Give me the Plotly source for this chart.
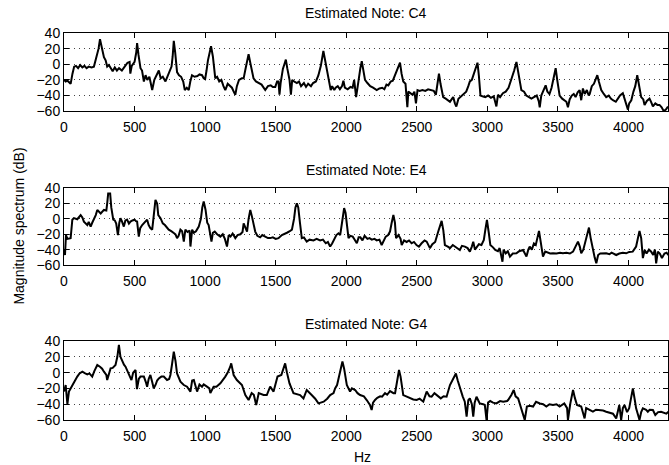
import plotly.graph_objects as go
from plotly.subplots import make_subplots

# ---------------- data (Hz, dB) ----------------
f_c4 = [0,12,25,47,60,72,85,100,115,130,145,160,175,195,212,230,245,255,265,283,295,306,318,330,345,360,375,390,410,430,450,465,470,480,500,512,518,528,542,553,566,578,590,605,618,625,640,655,672,685,700,719,735,750,762,770,778,788,801,815,830,845,856,870,884,895,907,925,945,960,978,990,1000,1010,1020,1042,1055,1072,1085,1100,1115,1130,1143,1160,1175,1190,1205,1214,1225,1240,1260,1273,1285,1300,1308,1320,1343,1360,1380,1400,1426,1445,1465,1480,1497,1510,1520,1527,1535,1551,1565,1572,1582,1598,1608,1617,1630,1650,1665,1680,1700,1715,1730,1750,1765,1785,1803,1820,1838,1850,1865,1874,1890,1900,1915,1925,1940,1955,1970,1980,1990,2010,2030,2045,2056,2070,2085,2100,2110,2120,2133,2150,2170,2190,2216,2235,2255,2270,2285,2298,2315,2330,2345,2357,2370,2381,2392,2404,2420,2433,2440,2455,2470,2483,2494,2505,2520,2540,2560,2580,2600,2620,2635,2645,2657,2668,2687,2705,2720,2735,2750,2758,2770,2780,2795,2817,2835,2850,2865,2876,2890,2905,2920,2930,2940,2951,2965,2985,3005,3025,3045,3064,3075,3090,3110,3130,3150,3170,3190,3206,3220,3241,3260,3276,3295,3312,3330,3350,3365,3371,3382,3398,3413,3425,3440,3455,3470,3484,3495,3512,3530,3545,3560,3571,3583,3598,3612,3625,3640,3654,3665,3677,3690,3705,3718,3725,3740,3755,3768,3779,3790,3807,3825,3842,3860,3875,3890,3910,3925,3940,3960,3975,3996,4005,4020,4035,4048,4062,4075,4090,4105,4114,4130,4149,4160,4173,4190,4205,4220,4235,4250,4265,4280]
db_c4 = [-20,-22,-21,-25,-12,-3,-2,-5,-1,-4,-2,-5,-3,-4,-3,8,20,32,25,9,5,-3,-1,-5,-9,-4,-8,-5,-8,-3,2,3,-12,-2,3,15,27,12,-5,-8,-22,-14,-20,-16,-26,-33,-20,-15,-8,-18,-16,-22,-14,-8,-3,10,30,15,-10,-14,-16,-22,-33,-30,-33,-22,-14,-16,-15,-13,-14,-18,-19,-8,5,23,10,-18,-16,-22,-20,-28,-33,-25,-28,-30,-36,-39,-28,-20,-18,-18,-7,5,13,2,-18,-22,-24,-26,-33,-28,-27,-29,-29,-22,-22,-39,-24,-6,2,6,-5,-20,-39,-20,-22,-24,-22,-28,-24,-29,-25,-28,-24,-22,-14,-2,17,5,-12,-20,-33,-28,-33,-30,-28,-32,-28,-21,-30,-32,-29,-30,-20,-42,-22,-5,4,-8,-20,-24,-28,-30,-33,-31,-30,-32,-26,-27,-22,-21,-14,-10,-3,2,-12,-22,-25,-55,-35,-37,-39,-35,-50,-33,-34,-33,-34,-32,-33,-34,-39,-25,-12,-25,-42,-44,-46,-48,-44,-42,-50,-54,-44,-40,-37,-35,-28,-22,-20,-12,-5,2,-15,-40,-41,-42,-40,-43,-41,-54,-39,-42,-37,-35,-30,-20,-8,3,-10,-33,-35,-40,-42,-44,-42,-40,-48,-55,-40,-32,-27,-35,-38,-30,-15,-5,-20,-40,-44,-46,-48,-55,-45,-40,-38,-42,-36,-33,-46,-31,-38,-33,-40,-38,-28,-25,-18,-14,-22,-33,-38,-42,-40,-44,-46,-48,-44,-40,-37,-45,-58,-50,-46,-35,-28,-14,-25,-42,-45,-52,-47,-44,-48,-54,-50,-52,-52,-55,-60,-58,-54]

f_e4 = [0,7,14,24,47,59,70,94,118,130,141,155,165,175,189,200,212,225,236,250,260,283,300,306,313,327,335,349,360,370,382,392,400,410,424,435,447,460,471,485,500,510,518,530,540,554,570,589,600,612,625,635,641,648,660,668,684,700,715,742,760,778,790,801,812,825,837,849,860,875,890,896,908,920,935,955,970,980,990,1003,1015,1025,1035,1045,1055,1068,1085,1108,1125,1140,1155,1167,1180,1195,1214,1230,1250,1265,1273,1285,1297,1308,1320,1332,1345,1355,1370,1390,1405,1425,1445,1461,1480,1500,1520,1544,1560,1580,1600,1615,1630,1640,1650,1660,1672,1685,1700,1720,1740,1768,1790,1815,1835,1855,1870,1886,1900,1915,1930,1945,1957,1970,1985,1995,2005,2016,2030,2046,2060,2075,2088,2100,2115,2130,2150,2165,2181,2200,2216,2235,2251,2265,2280,2297,2310,2322,2334,2345,2353,2370,2385,2393,2410,2428,2445,2463,2480,2498,2515,2534,2555,2570,2593,2610,2630,2652,2665,2676,2688,2699,2720,2735,2755,2770,2790,2805,2820,2841,2860,2876,2890,2900,2912,2925,2940,2958,2975,2985,2997,3010,3021,3040,3056,3075,3087,3107,3115,3130,3145,3160,3180,3206,3225,3253,3265,3277,3290,3300,3315,3330,3343,3355,3366,3378,3394,3410,3425,3445,3465,3490,3515,3535,3560,3585,3607,3625,3642,3655,3665,3680,3695,3710,3720,3732,3748,3760,3772,3785,3800,3820,3842,3865,3880,3913,3935,3960,3984,4005,4030,4054,4066,4078,4090,4102,4115,4128,4145,4161,4175,4187,4196,4208,4222,4237,4255,4270,4283]
db_e4 = [-40,-47,-21,-26,-25,-1,1,-0.4,5,2,-3.5,-6,-8,-4,-10,-5,-1,5,11.7,8,7,11.7,11,20,33,33,15,-1,-2,-6,-21,-5,1,-3,-10,-2,-1,-6,-3.5,-2,-1,-3,-3.5,-23,-12,-8,-5,-1,-8,-12,-14,0,15,24.8,20,5,1,-5.7,-8,-14,-16,-18.7,-20,-25,-22,-14,-16,-29.6,-14,-17,-15,-36,-14,-18,-16,-10,0,15,22.6,12,-5,-8,-18,-29.6,-18,-16.5,-20,-23,-20,-26,-36,-21,-23,-19,-25,-21,-20,-17,-5.7,-12,-16.5,0,11.7,3,-10,-16.5,-22,-24,-21,-23,-25,-25,-24,-26,-25,-21,-20,-18,-16,-14,0,15,20.4,15,-5,-25,-24,-29.6,-27,-28,-26,-28,-27,-31.7,-30,-36,-32,-27.4,-21,-18.7,-21,-5,14,8,-10,-25,-22,-23,-27,-31.7,-24,-24,-28,-22,-26,-25,-27,-26,-28,-27,-34,-28,-23,-21,-16.5,-5,5.2,-5,-25,-21,-26,-34,-28,-30,-28,-31.7,-30,-34,-36,-31.7,-28,-29.6,-38,-33,-30,-16.5,-8,-2.6,-15,-34,-36,-38,-34,-36,-38,-40.4,-35,-36,-38,-42.6,-36,-29.6,-40,-36,-33,-34,-27.4,-15,-1.3,-18,-34,-37,-40.4,-42,-38,-55.7,-40,-44.8,-42,-49,-45,-44.8,-42,-40.4,-44,-49,-40,-36,-40,-32,-34,-25,-15.6,-30,-49,-42.6,-44,-45,-44.8,-45,-44,-44.8,-44,-45,-42.6,-36,-29.6,-36,-44.8,-40,-30,-18,-11.3,-25,-42.6,-50,-57.8,-47,-45,-44.8,-44.8,-46,-44,-47,-45,-44,-44.8,-43,-42.6,-36,-25,-15.6,-25,-51,-40.4,-45,-40,-42.6,-47,-40,-57.8,-42.6,-45,-51,-45,-44,-47]

f_g4 = [0,12,24,35,47,59,71,94,110,130,150,165,180,200,215,236,255,270,283,300,306,318,330,345,365,378,389,400,412,425,436,450,460,478,490,507,517,530,542,566,580,589,600,612,625,636,650,660,672,690,707,730,745,754,765,778,790,801,825,849,872,896,908,920,943,960,978,990,1013,1030,1037,1060,1080,1108,1143,1160,1178,1185,1202,1225,1261,1285,1308,1330,1345,1362,1380,1414,1437,1461,1485,1513,1540,1555,1567,1580,1598,1626,1650,1673,1697,1720,1755,1780,1803,1840,1865,1886,1910,1921,1935,1955,1973,1985,2004,2027,2040,2063,2080,2098,2125,2145,2168,2180,2190,2204,2220,2240,2254,2275,2290,2310,2335,2346,2360,2374,2385,2404,2425,2451,2475,2499,2520,2546,2570,2590,2605,2625,2640,2670,2690,2711,2735,2755,2777,2790,2805,2825,2840,2853,2865,2876,2890,2900,2910,2923,2935,2946,2970,2982,2994,3005,3020,3040,3064,3090,3112,3140,3147,3170,3187,3200,3218,3241,3265,3280,3300,3324,3345,3372,3395,3418,3440,3465,3490,3512,3545,3565,3571,3588,3607,3620,3635,3665,3689,3700,3725,3748,3770,3795,3820,3842,3870,3890,3913,3935,3948,3960,3972,3990,4005,4020,4031,4045,4054,4070,4078,4090,4102,4125,4137,4150,4173,4190,4210,4231,4255,4268,4283]
db_g4 = [-24,-15.7,-40,-24,-20,-15.7,-11.5,-5,-1,1.2,-1,-2.2,-1,-5,2,9.6,7.5,5,1.2,-3,-9.4,0,5.4,6,9.6,20,35,20,14,10,7.5,2,-1,-9.4,0,3.3,-20.8,-8,-5,-5,-12,-17.8,-8,-3,-12,-20,-15,-10,-7.3,-5,-5,-9.4,-8,-3,10,26.5,15,-1,-11.5,-15.7,-17.8,-24,-10,-9.4,-24,-15,-17.8,-15,-17.8,-20,-26,-17.8,-18,-13.6,-5,0,7.5,11.7,-3,-9.4,-15.7,-28.4,-34.7,-26,-28,-41,-26,-28.4,-28.4,-17.8,-24,-5,-3,5,11.7,0,-13.6,-26,-27,-28.4,-32.6,-22,-28.4,-33,-39,-36.8,-33,-28.4,-26,-20,-15.7,0,14,5,-15.7,-24,-20,-22,-26,-28.4,-30,-34.7,-41,-47.4,-38,-34.7,-32,-30,-30.5,-26,-28,-23.3,-26,-26,-10,3.3,-5,-28.4,-30,-32.6,-34,-34.7,-33,-36.8,-24,-30,-30.5,-26,-28.4,-32.6,-30,-30.5,-15.7,-9,-1,-10,-20,-30,-36.8,-55.8,-35,-32.6,-40,-55.8,-38,-30.5,-35,-39,-40,-41,-60,-38,-36,-38,-39,-36,-37,-36,-34.7,-28.4,-22,-30,-32.6,-45.2,-60,-43,-42,-43,-37,-39,-40,-43,-40,-41,-40,-43,-39,-45,-60,-39,-22,-32,-41,-43,-58,-45,-47.4,-49.5,-47,-47.4,-48,-49.5,-51,-52,-58,-41,-60,-45,-41,-50,-45,-30,-20,-35,-45.2,-55,-60,-50,-45.2,-47,-49.5,-47,-47.4,-53.7,-50,-49.5,-51,-52,-49.5]

titles = ["Estimated Note: C4", "Estimated Note: E4", "Estimated Note: G4"]
x_ticks = [0, 500, 1000, 1500, 2000, 2500, 3000, 3500, 4000]
y_ticks = [-60, -40, -20, 0, 20, 40]
x_label = "Hz"
y_label = "Magnitude spectrum (dB)"

series = [(f_c4, db_c4), (f_e4, db_e4), (f_g4, db_g4)]

FONT = "Liberation Sans, Arial, Helvetica, sans-serif"

fig = make_subplots(rows=3, cols=1)
for i, (f, d) in enumerate(series):
    fig.add_trace(go.Scatter(x=f, y=d, mode="lines",
                             line=dict(color="black", width=2),
                             showlegend=False, hoverinfo="skip"),
                  row=i + 1, col=1)

# pixel geometry: plot area spans y 33..420, x 64..668
domains = [[0.798, 1.0], [0.4005, 0.599], [0.0, 0.204]]
title_y = [1.052, 0.646, 0.248]

for i in range(3):
    xa = "xaxis" if i == 0 else f"xaxis{i+1}"
    ya = "yaxis" if i == 0 else f"yaxis{i+1}"
    fig.layout[xa].update(range=[0, 4280], tickvals=x_ticks, ticks="inside",
                          ticklen=5, tickcolor="black", showline=True,
                          linecolor="black", linewidth=1, mirror="ticks",
                          showgrid=False, zeroline=False, ticklabelstandoff=3,
                          tickfont=dict(family=FONT, size=14, color="black"))
    fig.layout[ya].update(range=[-60, 40], tickvals=y_ticks, ticks="inside",
                          ticklen=5, tickcolor="black", showline=True,
                          linecolor="black", linewidth=1, mirror="ticks",
                          showgrid=True, gridcolor="#444", griddash="1px,4px",
                          gridwidth=1, zeroline=False, domain=domains[i],
                          tickfont=dict(family=FONT, size=14, color="black"))
    fig.add_annotation(text=titles[i], xref="paper", yref="paper",
                       x=0.5, y=title_y[i], xanchor="center", yanchor="middle",
                       showarrow=False,
                       font=dict(family=FONT, size=14, color="black"))

fig.add_annotation(text=x_label, xref="paper", yref="paper", x=0.495, y=-0.096,
                   xanchor="center", yanchor="middle", showarrow=False,
                   font=dict(family=FONT, size=14, color="black"))
fig.add_annotation(text=y_label, xref="paper", yref="paper", x=-0.076, y=0.5,
                   xanchor="center", yanchor="middle", textangle=-90,
                   showarrow=False,
                   font=dict(family=FONT, size=14, color="black"))

fig.update_layout(width=669, height=465,
                  margin=dict(l=64, r=1, t=33, b=45),
                  plot_bgcolor="white", paper_bgcolor="white")

fig.write_html("out.html")
